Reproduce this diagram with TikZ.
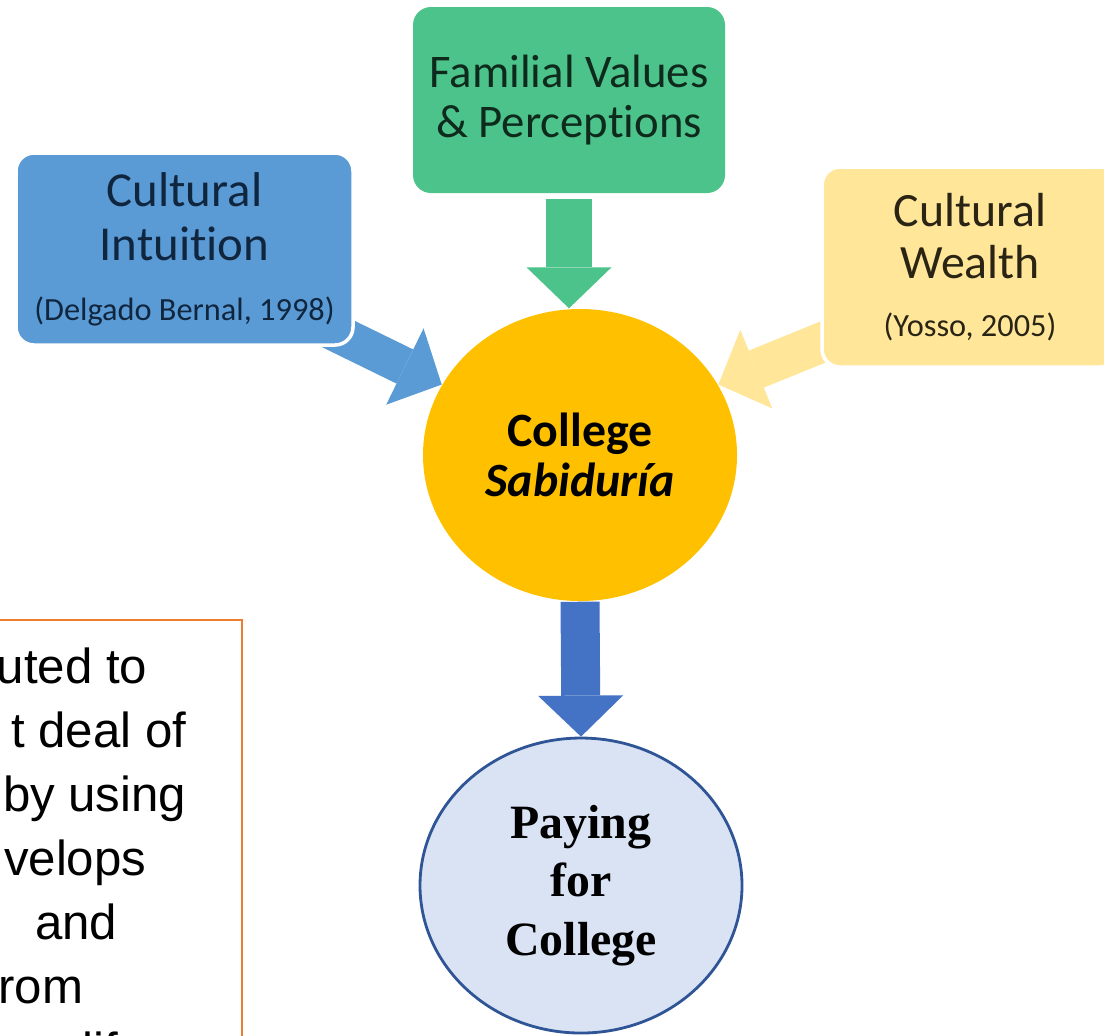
\documentclass[tikz,border=0pt]{standalone}
\usepackage{fontspec}
\setmainfont{Carlito}[Ligatures=NoCommon]
\newfontfamily\arialfont{Liberation Sans}
\newfontfamily\timesfont{Liberation Serif}
\usetikzlibrary{arrows.meta,positioning,shapes.geometric}
\definecolor{famgreen}{HTML}{4CC38A}
\definecolor{famtext}{HTML}{0E2A1C}
\definecolor{intublue}{HTML}{5B9BD5}
\definecolor{intutext}{HTML}{10263F}
\definecolor{wealthyellow}{HTML}{FFE699}
\definecolor{wealthtext}{HTML}{2A2415}
\definecolor{sabgold}{HTML}{FFC000}
\definecolor{payblue}{HTML}{DAE3F3}
\definecolor{payedge}{HTML}{2F5597}
\definecolor{downblue}{HTML}{4472C4}
\definecolor{noteorange}{HTML}{ED7D31}
\pgfdeclarelayer{background}
\pgfsetlayers{background,main}

\tikzset{
  srcbox/.style={rectangle, rounded corners=0.18cm, align=center, inner sep=0pt},
  bigarrow/.style={line width=#1, -{Triangle[length=0.41cm,width=0.85cm,line width=0pt]}},
  notetext/.style={inner sep=0pt, font=\arialfont\fontsize{14}{16}\selectfont},
}

\begin{document}
\begin{tikzpicture}[align=center]
  \useasboundingbox (0,0) rectangle (11.04,-10.35);
  \clip (0,0) rectangle (11.04,-10.35);

  \node[srcbox, fill=famgreen, text=famtext, minimum width=3.12cm, minimum height=1.86cm,
        font=\fontsize{13.3}{14}\selectfont] (fam) at (5.69,-1.00) {Familial Values\\\& Perceptions};
  \node[srcbox, fill=intublue, draw=white, line width=1pt, text=intutext, minimum width=3.37cm,
        minimum height=1.92cm, font=\fontsize{13.9}{15.4}\selectfont] (intu) at (1.845,-2.49)
        {Cultural\\Intuition\\[1.6pt]{\fontsize{9.2}{11}\selectfont (Delgado Bernal, 1998)}};
  \node[srcbox, fill=wealthyellow, draw=white, line width=1pt, text=wealthtext, minimum width=2.96cm,
        minimum height=2.00cm, font=\fontsize{13.6}{14.8}\selectfont] (wealth) at (9.70,-2.67)
        {Cultural\\Wealth\\[1.7pt]{\fontsize{9.2}{11}\selectfont (Yosso, 2005)}};

  \node[ellipse, fill=sabgold, inner sep=0pt, minimum width=3.14cm, minimum height=2.92cm,
        font=\bfseries\fontsize{13.6}{14.2}\selectfont] (sab) at (5.80,-4.55) {College\\\textit{Sabiduría}};
  \node[ellipse, fill=payblue, draw=payedge, line width=0.8pt, inner sep=0pt, minimum width=3.22cm,
        minimum height=2.95cm, font=\timesfont\bfseries\fontsize{13.6}{16.6}\selectfont]
        (pay) at (5.81,-8.855) {Paying\\for\\College};

  \begin{pgfonlayer}{background}
    \draw[bigarrow=0.46cm, famgreen] ([yshift=-0.05cm]fam.south) -- (fam.south |- sab.north);
    \draw[bigarrow=0.38cm, intublue] ([shift={(-0.25,0.17)}]intu.south east) -- (sab.153);
    \draw[bigarrow=0.40cm, wealthyellow] ([shift={(0.18,0.33)}]wealth.south west) -- (sab.27);
    \draw[bigarrow=0.39cm, downblue] (sab.south) -- (pay.north);
  \end{pgfonlayer}

  % note box, cut off at the left and bottom
  \draw[noteorange, line width=0.6pt] (-0.5,-6.20) rectangle (2.42,-11);
  \foreach \rx/\by/\frag [count=\i] in {1.48/6.83/uted to, 1.87/7.47/t deal of, 1.87/8.11/by using,
      1.47/8.75/velops, 1.18/9.39/and, 0.84/10.03/rom}
    \node[notetext, anchor=base east] (note\i) at (\rx,-\by) {\frag};
  \node[notetext, anchor=base west] (note7) at (0.82,-10.67) {lif};
\end{tikzpicture}
\end{document}
